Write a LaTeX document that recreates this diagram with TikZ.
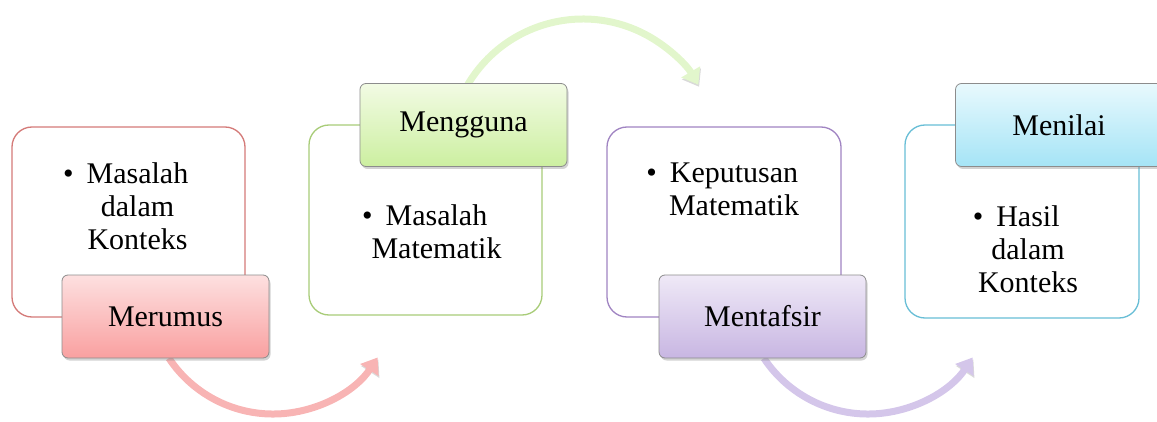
\documentclass[tikz,border=0pt]{standalone}
\usepackage{fontspec}
\setmainfont{Liberation Serif}
\usetikzlibrary{arrows.meta,shadows}
\definecolor{rline}{RGB}{212,122,120}
\definecolor{gline}{RGB}{168,204,120}
\definecolor{pline}{RGB}{160,132,194}
\definecolor{bline}{RGB}{104,190,214}
\definecolor{rtop}{RGB}{253,224,224}
\definecolor{rbot}{RGB}{249,160,160}
\definecolor{gtop}{RGB}{242,251,228}
\definecolor{gbot}{RGB}{204,239,160}
\definecolor{ptop}{RGB}{239,233,247}
\definecolor{pbot}{RGB}{200,182,226}
\definecolor{btop}{RGB}{232,249,253}
\definecolor{bbot}{RGB}{165,228,246}
\definecolor{rarr}{RGB}{248,180,180}
\definecolor{garr}{RGB}{226,246,204}
\definecolor{parr}{RGB}{212,198,234}
\begin{document}
\begin{tikzpicture}[x=1pt,y=1pt,
  outer/.style={draw=#1, line width=1.3pt, rounded corners=20pt, fill=white, inner sep=0pt},
  lab/.style={draw=black!45, line width=0.8pt, rounded corners=6pt, minimum width=207pt, minimum height=83pt, inner sep=0pt,
    font=\fontsize{30}{33}\selectfont, drop shadow={opacity=0.35, shadow xshift=1.5pt, shadow yshift=-2.5pt}},
  body/.style={align=center, font=\fontsize{30}{33}\selectfont, inner sep=0pt},
  arr/.style={draw=#1, line width=7pt, -{Triangle[width=21pt,length=15pt]},
    preaction={draw=black, opacity=0.15, transform canvas={xshift=0.8pt, yshift=-2pt}}},
]
\useasboundingbox (0,0) rectangle (1157,421);

% curved arrows
\coordinate (s1) at (168.9,62.8);
\coordinate (s2) at (467.4,335.8);
\coordinate (s3) at (763.9,62.8);
\draw[arr=rarr] (s1) arc[start angle=213.6, end angle=326.8, radius=125];
\draw[arr=garr] (s2) arc[start angle=149.6, end angle=30.6, radius=134];
\draw[arr=parr] (s3) arc[start angle=213.6, end angle=326.8, radius=125];

% outer boxes
\node[outer=rline, minimum width=233pt, minimum height=190pt] (b1) at (128.5,199) {};
\node[outer=gline, minimum width=233pt, minimum height=190pt] (b2) at (425.5,201) {};
\node[outer=pline, minimum width=234pt, minimum height=190pt] (b3) at (724,199) {};
\node[outer=bline, minimum width=234pt, minimum height=193pt] (b4) at (1022,199.5) {};

% body texts
\node[body] (t1) at (137.5,215) {\llap{\textbullet\hspace{13pt}}Masalah\\dalam\\Konteks};
\node[body] (t2) at (436.5,189) {\llap{\textbullet\hspace{13pt}}Masalah\\Matematik};
\node[body] (t3) at (734,232) {\llap{\textbullet\hspace{13pt}}Keputusan\\Matematik};
\node[body] (t4) at (1028,172) {\llap{\textbullet\hspace{13pt}}Hasil\\dalam\\Konteks};

% labels
\node[lab, top color=rtop, bottom color=rbot] (l1) at (165.5,104.5) {Merumus};
\node[lab, top color=gtop, bottom color=gbot] (l2) at (463.5,296) {Mengguna};
\node[lab, top color=ptop, bottom color=pbot] (l3) at (762.5,104.5) {Mentafsir};
\node[lab, top color=btop, bottom color=bbot] (l4) at (1059,296) {Menilai};
\end{tikzpicture}
\end{document}
